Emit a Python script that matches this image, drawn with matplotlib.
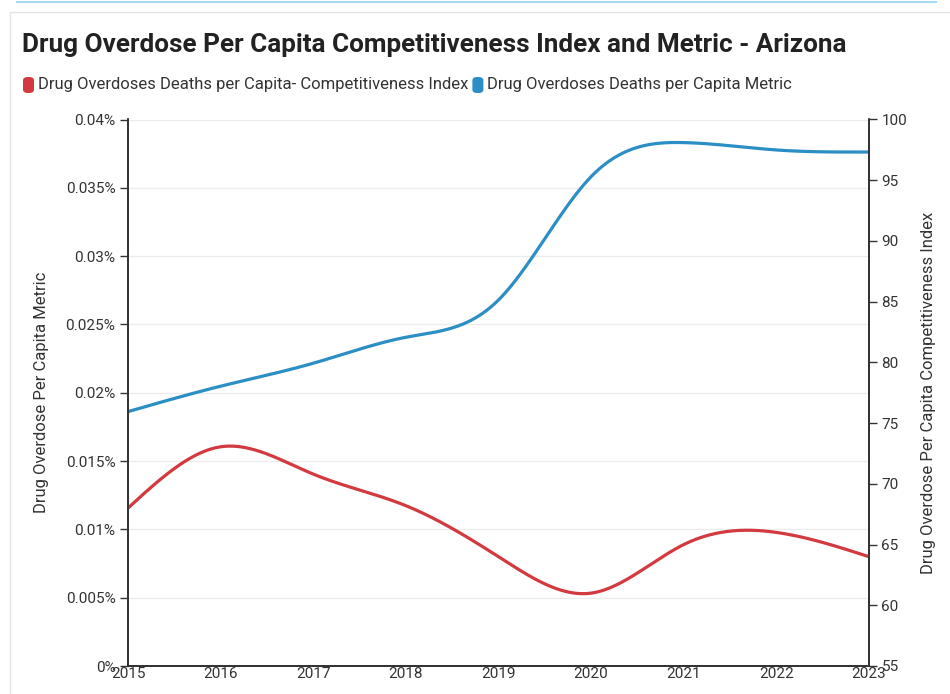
import numpy as np
import matplotlib
matplotlib.use("Agg")
import matplotlib.pyplot as plt
from matplotlib.patches import FancyBboxPatch
from matplotlib.lines import Line2D
from matplotlib.ticker import FuncFormatter, MultipleLocator

plt.rcParams['font.family'] = ['Roboto', 'DejaVu Sans']

years = np.array([2015, 2016, 2017, 2018, 2019, 2020, 2021, 2022, 2023])
# competitiveness index (right axis)
comp_index = np.array([68.0, 73.05, 70.8, 68.2, 64.0, 61.0, 65.0, 66.0, 64.0])
# deaths per capita, in percent (left axis)
metric_pct = np.array([0.01862, 0.02048, 0.02216, 0.02406, 0.02679, 0.03582, 0.03831, 0.03777, 0.03762])

RED = '#d23a40'
BLUE = '#2b8ec4'
TXT = '#333333'


def natural_spline(x, y, xs):
    # natural cubic spline through the points (second derivative 0 at the ends)
    x = np.asarray(x, float)
    y = np.asarray(y, float)
    n = len(x)
    h = np.diff(x)
    A = np.zeros((n, n))
    b = np.zeros(n)
    A[0, 0] = A[-1, -1] = 1
    for i in range(1, n - 1):
        A[i, i - 1] = h[i - 1]
        A[i, i] = 2 * (h[i - 1] + h[i])
        A[i, i + 1] = h[i]
        b[i] = 6 * ((y[i + 1] - y[i]) / h[i] - (y[i] - y[i - 1]) / h[i - 1])
    M = np.linalg.solve(A, b)
    idx = np.clip(np.searchsorted(x, xs) - 1, 0, n - 2)
    x0, x1 = x[idx], x[idx + 1]
    hh = x1 - x0
    t0, t1 = x1 - xs, xs - x0
    return (M[idx] * t0 ** 3 / (6 * hh) + M[idx + 1] * t1 ** 3 / (6 * hh)
            + (y[idx] / hh - M[idx] * hh / 6) * t0
            + (y[idx + 1] / hh - M[idx + 1] * hh / 6) * t1)


W, H = 950, 694
fig = plt.figure(figsize=(W / 100, H / 100), dpi=100)

# card frame + thin blue strip on top
fig.add_artist(Line2D([17 / W, 936 / W], [1 - 1.5 / H, 1 - 1.5 / H], color='#a9d9f2', lw=1.5))
fig.add_artist(Line2D([9.5 / W, 9.5 / W, 1.0], [0.0, 1 - 12 / H, 1 - 12 / H], color='#e4e4e4', lw=1))

ax = fig.add_axes([128 / W, 1 - 666 / H, 741 / W, 546.5 / H])
ax2 = ax.twinx()

xs = np.linspace(years[0], years[-1], 600)
ax.plot(xs, natural_spline(years, metric_pct, xs), color=BLUE, lw=2.3, solid_capstyle='round')
ax2.plot(xs, natural_spline(years, comp_index, xs), color=RED, lw=2.3, solid_capstyle='round')

ax.set_xlim(2015, 2023)
ax.set_ylim(0, 0.04)
ax2.set_ylim(55, 100)
ax.set_xticks(years)
ax.yaxis.set_major_locator(MultipleLocator(0.005))
ax.yaxis.set_major_formatter(FuncFormatter(lambda v, p: '{:g}%'.format(round(v, 4))))
ax2.yaxis.set_major_locator(MultipleLocator(5))

ax.grid(axis='y', color='#ececec', lw=1)
ax.set_axisbelow(True)
for a in (ax, ax2):
    a.spines['top'].set_visible(False)
    for s in ('left', 'right', 'bottom'):
        a.spines[s].set_color(TXT)
        a.spines[s].set_linewidth(1.3)
ax.tick_params(axis='y', length=6, width=1, color=TXT, labelsize=11, labelcolor=TXT, pad=3)
ax2.tick_params(axis='y', length=6, width=1, color=TXT, labelsize=11, labelcolor=TXT, pad=3)
ax.tick_params(axis='x', length=0, labelsize=11, labelcolor=TXT, pad=1)

ax.set_ylabel('Drug Overdose Per Capita Metric', fontsize=12, color=TXT, labelpad=12)
ax2.set_ylabel('Drug Overdose Per Capita Competitiveness Index', fontsize=12, color=TXT, labelpad=10)

fig.text(22 / W, 1 - 52 / H, 'Drug Overdose Per Capita Competitiveness Index and Metric - Arizona',
         fontsize=18.8, fontweight='bold', color='#222222', va='baseline')

# legend row
labels = ['Drug Overdoses Deaths per Capita- Competitiveness Index',
          'Drug Overdoses Deaths per Capita Metric']
colors = [RED, BLUE]
renderer = fig.canvas.get_renderer()
x_px = 23
for lab, col in zip(labels, colors):
    fig.add_artist(FancyBboxPatch((x_px / W, 1 - 93 / H), 11 / W, 16 / H,
                                  boxstyle='round,pad=0,rounding_size=0.005',
                                  transform=fig.transFigure, facecolor=col, edgecolor='none'))
    t = fig.text((x_px + 15) / W, 1 - 85 / H, lab, fontsize=12, color=TXT, va='center')
    bb = t.get_window_extent(renderer)
    x_px = bb.x1 + 4

fig.savefig('out.png', dpi=100)
